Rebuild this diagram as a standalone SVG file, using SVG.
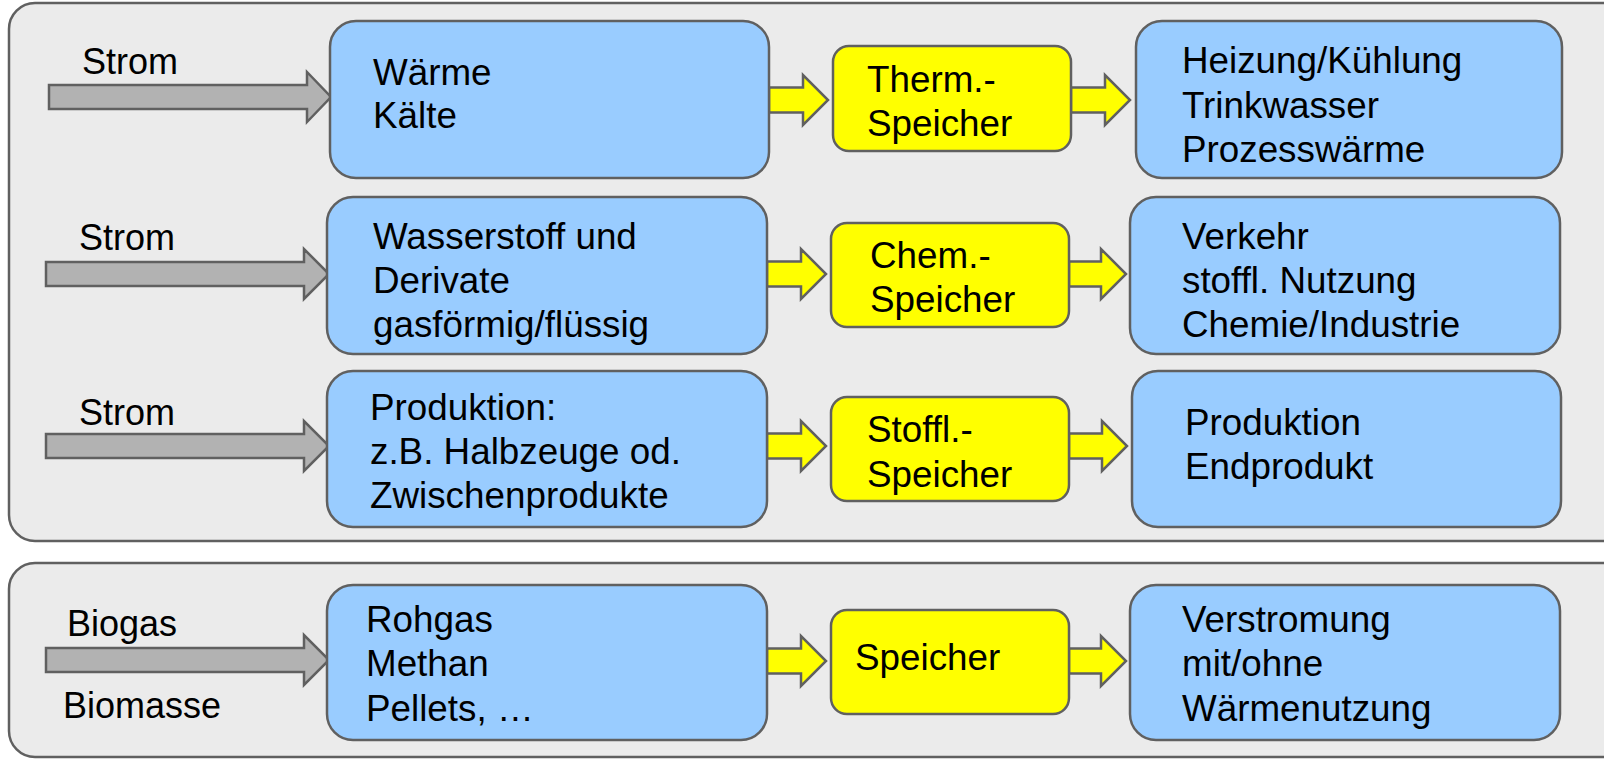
<svg xmlns="http://www.w3.org/2000/svg" width="1604" height="759" viewBox="0 0 1604 759">
<defs>
<style>
.panel{fill:#ebebeb;stroke:#606060;stroke-width:2.5}
.blue{fill:#99ccff;stroke:#606060;stroke-width:2.5}
.yel{fill:#ffff00;stroke:#606060;stroke-width:2.5}
.garr{fill:#b2b2b2;stroke:#606060;stroke-width:2.5;stroke-linejoin:miter}
.yarr{fill:#ffff00;stroke:#606060;stroke-width:2.5;stroke-linejoin:miter}
text{font-family:"Liberation Sans",Arial,sans-serif;font-size:36.8px;fill:#000}
text.lbl{font-size:36px}
</style>
</defs>
<rect width="1604" height="759" fill="#ffffff"/>
<g id="panel-strom"><rect class="panel" x="9" y="3" width="1620" height="538" rx="26"/></g>
<g id="panel-bio"><rect class="panel" x="9" y="563" width="1620" height="194" rx="26"/></g>

<g id="connectors">
<path class="garr" d="M49,85 H307 V72 L331,97 L307,122 V109 H49 Z"/>
<path class="garr" d="M46,262 H304 V249 L329,274 L304,299 V286 H46 Z"/>
<path class="garr" d="M46,434 H304 V421 L329,446 L304,471 V458 H46 Z"/>
<path class="garr" d="M46,648 H304 V635 L329,660 L304,685 V672 H46 Z"/>

<path class="yarr" d="M769,87.5 H803 V75 L828,100 L803,125 V112.5 H769 Z"/>
<path class="yarr" d="M1071,87.5 H1105 V75 L1130,100 L1105,125 V112.5 H1071 Z"/>
<path class="yarr" d="M767,261.5 H801 V249 L826,274 L801,299 V286.5 H767 Z"/>
<path class="yarr" d="M1069,261.5 H1101 V249 L1126,274 L1101,299 V286.5 H1069 Z"/>
<path class="yarr" d="M767,433.5 H801 V421 L826,446 L801,471 V458.5 H767 Z"/>
<path class="yarr" d="M1069,433.5 H1102 V421 L1127,446 L1102,471 V458.5 H1069 Z"/>
<path class="yarr" d="M767,648.5 H801 V636 L826,661 L801,686 V673.5 H767 Z"/>
<path class="yarr" d="M1069,648.5 H1101 V636 L1126,661 L1101,686 V673.5 H1069 Z"/>
</g>

<g id="labels">
<text class="lbl" x="82" y="74">Strom</text>
<text class="lbl" x="79" y="250">Strom</text>
<text class="lbl" x="79" y="425">Strom</text>
<text class="lbl" x="67" y="636">Biogas</text>
<text class="lbl" x="63" y="718">Biomasse</text>
</g>

<g id="waerme"><rect class="blue" x="330" y="21" width="439" height="157" rx="26"/>
<text x="373" y="85">Wärme</text><text x="373" y="128">Kälte</text></g>
<g id="therm"><rect class="yel" x="833" y="46" width="238" height="105" rx="16"/>
<text x="867" y="92">Therm.-</text><text x="867" y="136">Speicher</text></g>
<g id="heizung"><rect class="blue" x="1136" y="21" width="426" height="157" rx="26"/>
<text x="1182" y="73">Heizung/Kühlung</text><text x="1182" y="118">Trinkwasser</text><text x="1182" y="162">Prozesswärme</text></g>

<g id="wasserstoff"><rect class="blue" x="327" y="197" width="440" height="157" rx="26"/>
<text x="373" y="249">Wasserstoff und</text><text x="373" y="293">Derivate</text><text x="373" y="337">gasförmig/flüssig</text></g>
<g id="chem"><rect class="yel" x="831" y="223" width="238" height="104" rx="16"/>
<text x="870" y="268">Chem.-</text><text x="870" y="312">Speicher</text></g>
<g id="verkehr"><rect class="blue" x="1130" y="197" width="430" height="157" rx="26"/>
<text x="1182" y="249">Verkehr</text><text x="1182" y="293">stoffl. Nutzung</text><text x="1182" y="337">Chemie/Industrie</text></g>

<g id="produktion"><rect class="blue" x="327" y="371" width="440" height="156" rx="26"/>
<text x="370" y="420">Produktion:</text><text x="370" y="464">z.B. Halbzeuge od.</text><text x="370" y="508">Zwischenprodukte</text></g>
<g id="stoffl"><rect class="yel" x="831" y="397" width="238" height="104" rx="16"/>
<text x="867" y="442">Stoffl.-</text><text x="867" y="487">Speicher</text></g>
<g id="endprodukt"><rect class="blue" x="1132" y="371" width="429" height="156" rx="26"/>
<text x="1185" y="435">Produktion</text><text x="1185" y="479">Endprodukt</text></g>

<g id="rohgas"><rect class="blue" x="327" y="585" width="440" height="155" rx="26"/>
<text x="366" y="632">Rohgas</text><text x="366" y="676">Methan</text><text x="366" y="721">Pellets, …</text></g>
<g id="speicher"><rect class="yel" x="831" y="610" width="238" height="104" rx="16"/>
<text x="855" y="670">Speicher</text></g>
<g id="verstromung"><rect class="blue" x="1130" y="585" width="430" height="155" rx="26"/>
<text x="1182" y="632">Verstromung</text><text x="1182" y="676">mit/ohne</text><text x="1182" y="721">Wärmenutzung</text></g>
</svg>
